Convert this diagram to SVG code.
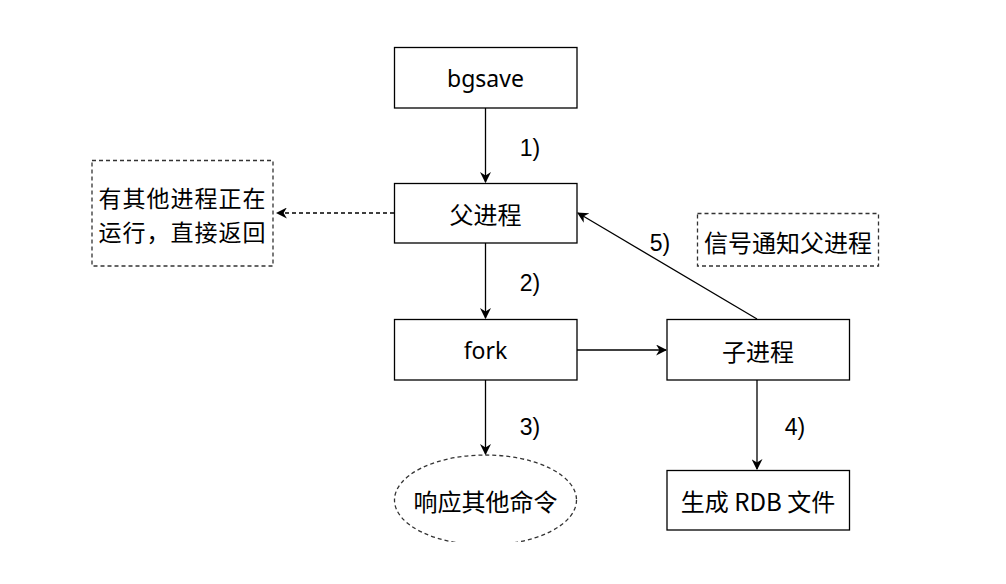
<svg xmlns="http://www.w3.org/2000/svg" width="1006" height="584" viewBox="0 0 1006 584">
<defs>
<marker id="ah" viewBox="0 0 10 10" refX="9" refY="5" markerWidth="11" markerHeight="11" markerUnits="userSpaceOnUse" orient="auto">
<path d="M0,0 L10,5 L0,10 L3,5 Z" fill="#000"/>
</marker>
<clipPath id="clip"><rect x="0" y="0" width="1006" height="542"/></clipPath>
</defs>
<style>
.box{fill:#fff;stroke:#000;stroke-width:1.3}
.dbox{fill:#fff;stroke:#333;stroke-width:1.3;stroke-dasharray:4 3}
.t{font-family:"Noto Sans CJK SC","Noto Sans",sans-serif;font-size:24px;fill:#000;text-anchor:middle;dominant-baseline:central}
.t2{font-family:"Noto Sans CJK SC","Noto Sans",sans-serif;font-size:23px;fill:#000;text-anchor:middle;dominant-baseline:central;letter-spacing:1px}
.en{font-family:"Comic Sans MS","Noto Sans","DejaVu Sans",sans-serif;font-size:23px;fill:#000;text-anchor:middle;dominant-baseline:central}
.lbl{font-family:"Liberation Sans",Arial,sans-serif;font-size:23px;fill:#000;text-anchor:middle;dominant-baseline:central}
.c{stroke:#000;stroke-width:1.3;fill:none}
</style>
<rect width="1006" height="584" fill="#fff"/>
<g id="connectors">
<line class="c" x1="485.5" y1="108" x2="485.5" y2="182" marker-end="url(#ah)"/>
<line class="c" x1="394" y1="213" x2="277" y2="213" stroke-dasharray="4 3" marker-end="url(#ah)"/>
<line class="c" x1="485.5" y1="243" x2="485.5" y2="318" marker-end="url(#ah)"/>
<line class="c" x1="577" y1="350" x2="666" y2="350" marker-end="url(#ah)"/>
<line class="c" x1="757" y1="319" x2="578" y2="213" marker-end="url(#ah)"/>
<line class="c" x1="485.5" y1="380" x2="485.5" y2="454" marker-end="url(#ah)"/>
<line class="c" x1="757" y1="380" x2="757" y2="469" marker-end="url(#ah)"/>
<text class="lbl" x="530" y="148">1)</text>
<text class="lbl" x="530" y="283">2)</text>
<text class="lbl" x="530" y="427">3)</text>
<text class="lbl" x="795" y="427">4)</text>
<text class="lbl" x="660" y="243">5)</text>
</g>
<g id="bgsave">
<rect class="box" x="394.5" y="47.5" width="182.5" height="60.5"/>
<text class="en" x="485.5" y="78">bgsave</text>
</g>
<g id="parent">
<rect class="box" x="394.5" y="183.5" width="182.5" height="59.5"/>
<text class="t" x="485.5" y="213">父进程</text>
</g>
<g id="other-running">
<rect class="dbox" x="92" y="160.5" width="181" height="105.5"/>
<text class="t2" x="182.5" y="197">有其他进程正在</text>
<text class="t2" x="182.5" y="231">运行，直接返回</text>
</g>
<g id="fork">
<rect class="box" x="394.5" y="319.5" width="182.5" height="60.5"/>
<text class="en" x="485.5" y="350">fork</text>
</g>
<g id="child">
<rect class="box" x="667" y="319.5" width="182.5" height="60.5"/>
<text class="t" x="758" y="350">子进程</text>
</g>
<g id="signal">
<rect class="dbox" x="697.5" y="213.5" width="181" height="52.5"/>
<text class="t" x="788" y="241">信号通知父进程</text>
</g>
<g id="respond" clip-path="url(#clip)">
<ellipse class="dbox" cx="485.5" cy="500" rx="91" ry="45"/>
<text class="t" x="485.5" y="500">响应其他命令</text>
</g>
<g id="rdb">
<rect class="box" x="667" y="470.5" width="182.5" height="59.5"/>
<text class="t" x="758" y="500">生成 RDB 文件</text>
</g>
</svg>
